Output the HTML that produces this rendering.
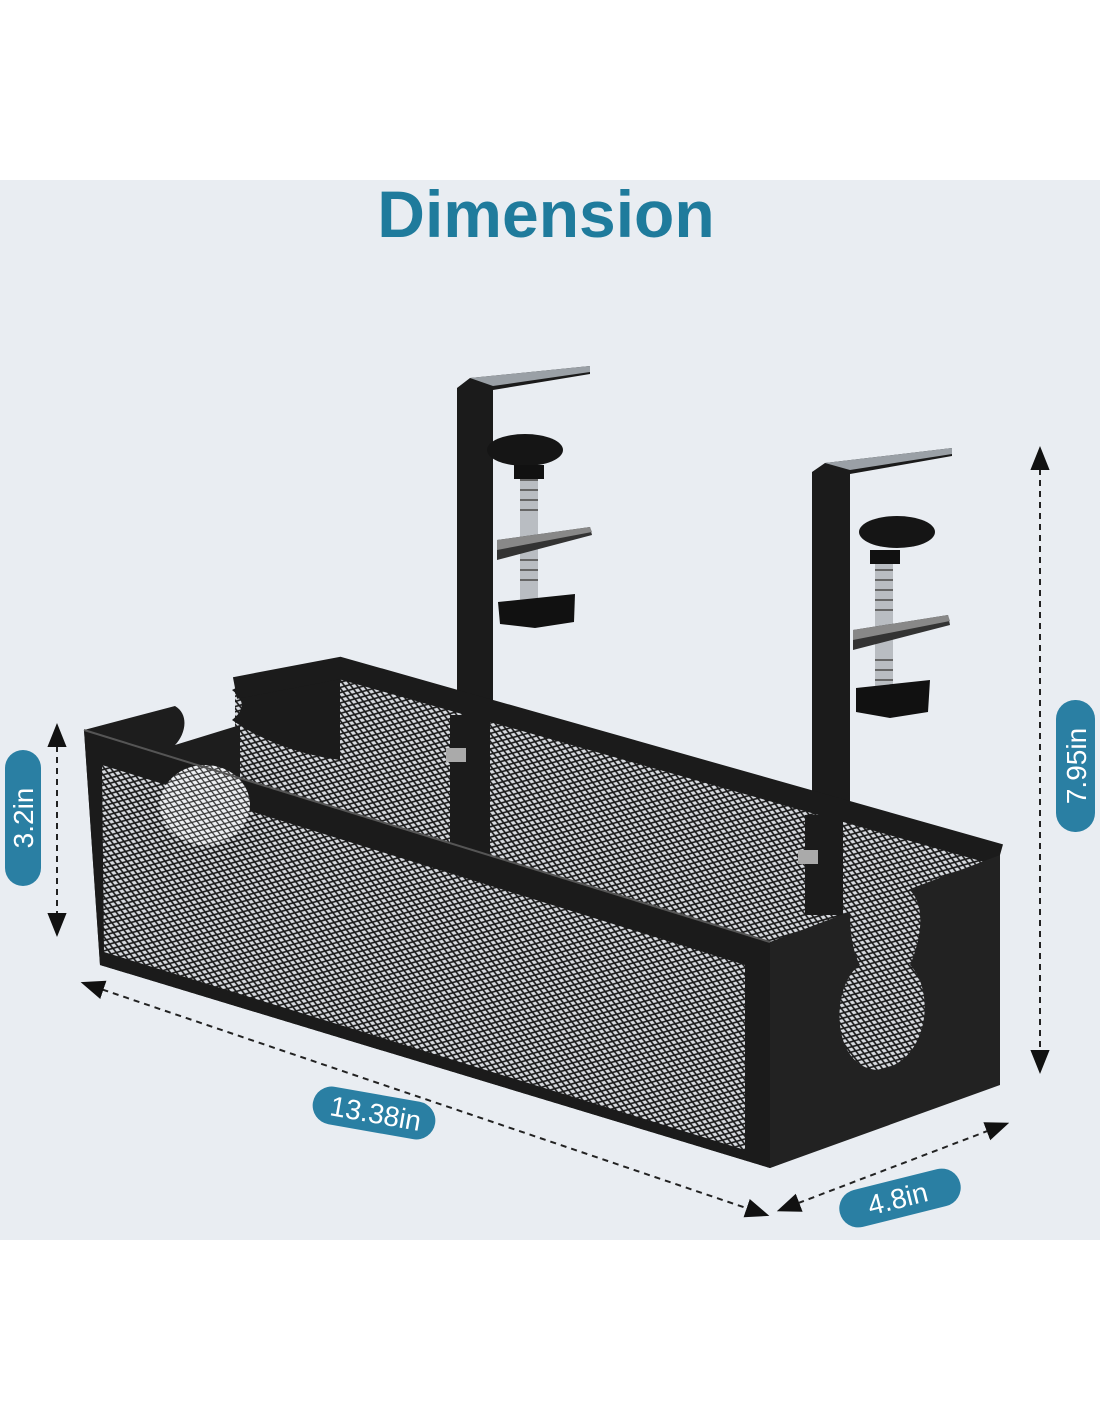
<!DOCTYPE html>
<html><head><meta charset="utf-8"><style>
html,body{margin:0;padding:0;background:#fff;}
body{width:1100px;height:1422px;position:relative;overflow:hidden;font-family:"Liberation Sans",sans-serif;}
</style></head><body>
<svg width="1100" height="1422" viewBox="0 0 1100 1422" xmlns="http://www.w3.org/2000/svg">
<defs>
<pattern id="mesh" width="9" height="6" patternUnits="userSpaceOnUse" patternTransform="rotate(18)">
<rect width="9" height="6" fill="#d8dbe0"/>
<path d="M0 0 L9 6 M9 0 L0 6" stroke="#1a1a1a" stroke-width="1.6"/>
</pattern>
<pattern id="meshl" width="9" height="6" patternUnits="userSpaceOnUse" patternTransform="rotate(18)">
<rect width="9" height="6" fill="#eef0f3"/>
<path d="M0 0 L9 6 M9 0 L0 6" stroke="#333" stroke-width="1.2"/>
</pattern>
<pattern id="meshd" width="8" height="5" patternUnits="userSpaceOnUse" patternTransform="rotate(18)">
<rect width="8" height="5" fill="#9a9ea4"/>
<path d="M0 0 L8 5 M8 0 L0 5" stroke="#111" stroke-width="1.8"/>
</pattern>
<marker id="ah" viewBox="0 0 10 10" refX="5" refY="5" markerWidth="12" markerHeight="12" orient="auto-start-reverse"><path d="M0 1 L10 5 L0 9 z" fill="#111"/></marker>
</defs>
<rect x="0" y="180" width="1100" height="1060" fill="#e9edf2"/>
<text x="546" y="237" text-anchor="middle" font-size="66" font-weight="bold" fill="#1f7b9c">Dimension</text>

<!-- clamps (behind) -->
<g>
<path d="M457 388 L470 378 L590 366 L590 374 L493 390 L493 850 L457 850 Z" fill="#1b1b1b"/>
<path d="M470 378 L590 366 L590 372 L493 386 Z" fill="#9aa0a6"/>
<rect x="520" y="470" width="18" height="130" fill="#b9bdc2"/>
<path d="M520 470 h18 M520 480 h18 M520 490 h18 M520 500 h18 M520 510 h18 M520 560 h18 M520 570 h18 M520 580 h18" stroke="#666" stroke-width="2"/>
<ellipse cx="525" cy="450" rx="38" ry="16" fill="#151515"/>
<rect x="514" y="465" width="30" height="14" fill="#111"/>
<path d="M497 540 L590 527 L592 535 L497 560 Z" fill="#333"/>
<path d="M497 540 L590 527 L592 532 L497 550 Z" fill="#888"/>
<path d="M498 602 L575 594 L574 622 L535 628 L500 624 Z" fill="#111"/>
</g>
<g>
<path d="M812 472 L825 463 L952 448 L952 456 L850 474 L850 850 L812 850 Z" fill="#1b1b1b"/>
<path d="M825 463 L952 448 L952 454 L850 470 Z" fill="#9aa0a6"/>
<rect x="875" y="555" width="18" height="135" fill="#b9bdc2"/>
<path d="M875 570 h18 M875 580 h18 M875 590 h18 M875 600 h18 M875 610 h18 M875 660 h18 M875 670 h18 M875 680 h18" stroke="#666" stroke-width="2"/>
<ellipse cx="897" cy="532" rx="38" ry="16" fill="#151515"/>
<rect x="870" y="550" width="30" height="14" fill="#111"/>
<path d="M853 630 L948 615 L950 625 L853 650 Z" fill="#333"/>
<path d="M853 630 L948 615 L950 621 L853 640 Z" fill="#888"/>
<path d="M856 688 L930 680 L928 712 L890 718 L856 712 Z" fill="#111"/>
</g>

<!-- box -->
<polygon points="235,688 340,668 1000,855 1000,1080 235,900" fill="url(#mesh)"/>
<path d="M232 690 C250 680 290 672 340 668 L340 760 C300 755 260 740 232 720 C245 710 245 700 232 690 Z" fill="#1b1b1b"/>
<path d="M235 688 L340 668 L1000 855" stroke="#1b1b1b" stroke-width="22" fill="none"/>
<rect x="450" y="715" width="40" height="140" fill="#1b1b1b"/>
<rect x="805" y="815" width="38" height="100" fill="#1b1b1b"/>
<polygon points="100,965 240,900 1000,1080 770,1168" fill="url(#meshd)"/>
<path d="M84 730 L175 706 C190 715 185 735 175 745 L240 725 L240 900 L100 965 Z" fill="#1d1d1d"/>
<!-- front panel -->
<path d="M84 730 L770 942 L770 1168 L100 965 Z" fill="#1b1b1b"/>
<path d="M102 765 L745 965 L745 1150 L104 952 Z" fill="url(#mesh)"/>
<ellipse cx="205" cy="805" rx="45" ry="40" fill="url(#meshl)"/>
<path d="M84 730 L770 942" stroke="#555" stroke-width="2"/>
<!-- right side panel -->
<path d="M770 942 L1000 855 L1000 1085 L770 1168 Z" fill="#222"/>
<path d="M850 910 C860 905 870 880 880 880 C930 880 925 930 910 965 C935 990 930 1060 880 1070 C830 1070 830 985 860 965 C852 950 850 930 850 910 Z" fill="url(#mesh)"/>
<rect x="446" y="748" width="20" height="14" fill="#aaa"/>
<rect x="798" y="850" width="20" height="14" fill="#aaa"/>

<g stroke="#222" stroke-width="2" stroke-dasharray="6,5" fill="none">
<line x1="57" y1="735" x2="57" y2="925" marker-start="url(#ah)" marker-end="url(#ah)"/>
<line x1="1040" y1="458" x2="1040" y2="1062" marker-start="url(#ah)" marker-end="url(#ah)"/>
<line x1="92" y1="986" x2="758" y2="1212" marker-start="url(#ah)" marker-end="url(#ah)"/>
<line x1="788" y1="1207" x2="998" y2="1127" marker-start="url(#ah)" marker-end="url(#ah)"/>
</g>
<g fill="#2a7fa3">
<rect x="5" y="750" width="36" height="136" rx="18"/>
<rect x="1056" y="700" width="39" height="132" rx="19"/>
<rect x="-62" y="-19" width="124" height="38" rx="19" transform="translate(374,1113) rotate(10)"/>
<rect x="-62" y="-19" width="124" height="38" rx="19" transform="translate(900,1198) rotate(-14)"/>
</g>
<g fill="#fff" font-size="28" text-anchor="middle">
<text transform="translate(33,818) rotate(-90)">3.2in</text>
<text transform="translate(1086,766) rotate(-90)">7.95in</text>
<text transform="translate(374,1123) rotate(10)">13.38in</text>
<text transform="translate(900,1208) rotate(-14)">4.8in</text>
</g>
</svg>
</body></html>
